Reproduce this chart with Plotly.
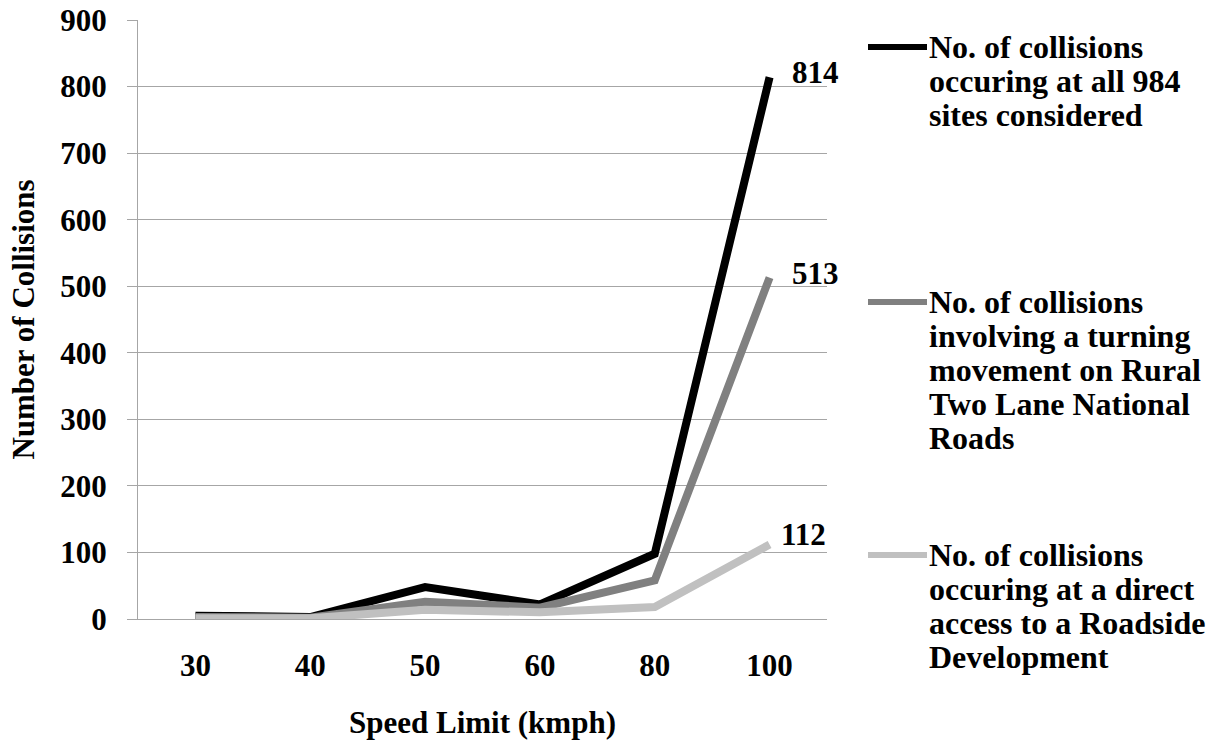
import plotly.graph_objects as go

# ---- data ----
speed_limits = ["30", "40", "50", "60", "80", "100"]
all_sites = [5, 3, 48, 22, 98, 814]
turning_movement = [3, 2, 26, 17, 58, 513]
direct_access = [1, 1, 14, 10, 18, 112]

series_values = [all_sites, turning_movement, direct_access]
series_names = [
    "No. of collisions occuring at all 984 sites considered",
    "No. of collisions involving a turning movement on Rural Two Lane National Roads",
    "No. of collisions occuring at a direct access to a Roadside Development",
]
legend_lines = [
    ["No. of collisions", "occuring at all 984", "sites considered"],
    ["No. of collisions", "involving a turning", "movement on Rural", "Two Lane National", "Roads"],
    ["No. of collisions", "occuring at a direct", "access to a Roadside", "Development"],
]
y_ticks = [0, 100, 200, 300, 400, 500, 600, 700, 800, 900]

# ---- style ----
colors = ["#000000", "#808080", "#c0c0c0"]
FONT = "Liberation Serif"
FS = 31
LFS = 32
W, H = 1209, 740
L, R, T, B = 138, 382, 20, 121
label_shift = [(20, 5), (20, 4), (9, 10)]
legend_first_y = [47, 302, 555]
legend_step = 34

pw, ph = W - L - R, H - T - B

def px_to_paper(x, y):
    return (x - L) / pw, (H - B - y) / ph

bold = dict(family=FONT, size=FS, color="black", weight="bold")

fig = go.Figure()
for vals, name, col in zip(series_values, series_names, colors):
    fig.add_trace(go.Scatter(
        x=speed_limits, y=vals, mode="lines", name=name,
        line=dict(color=col, width=8), showlegend=False,
    ))

annotations = []
shapes = []
last_idx = len(speed_limits) - 1
for i, (vals, col) in enumerate(zip(series_values, colors)):
    dx, dy = label_shift[i]
    annotations.append(dict(
        xref="x", yref="y", x=last_idx, y=vals[-1], text=str(vals[-1]),
        showarrow=False, xanchor="left", yanchor="middle",
        xshift=dx, yshift=dy, font=bold,
    ))
    # legend entry
    y0 = legend_first_y[i]
    sx0, sy = px_to_paper(868, y0)
    sx1, _ = px_to_paper(927, y0)
    shapes.append(dict(type="line", xref="paper", yref="paper",
                       x0=sx0, x1=sx1, y0=sy, y1=sy,
                       line=dict(color=col, width=6)))
    for j, txt in enumerate(legend_lines[i]):
        tx, ty = px_to_paper(927, y0 + j * legend_step)
        annotations.append(dict(
            xref="paper", yref="paper", x=tx, y=ty, text=txt, showarrow=False,
            xanchor="left", yanchor="middle",
            font=dict(family=FONT, size=LFS, color="black", weight="bold"),
        ))

fig.update_layout(
    width=W, height=H,
    margin=dict(l=L, r=R, t=T, b=B, autoexpand=False),
    paper_bgcolor="white", plot_bgcolor="white",
    font=bold,
    annotations=annotations, shapes=shapes,
    showlegend=False,
)
fig.update_xaxes(
    type="category", range=[-0.5, len(speed_limits) - 0.5],
    showline=True, linecolor="#a6a6a6", linewidth=1,
    ticks="", showgrid=False, ticklabelstandoff=19,
    tickfont=bold,
    title=dict(text="Speed Limit (kmph)", standoff=30, font=bold),
)
fig.update_yaxes(
    range=[0, 900], tickvals=y_ticks,
    showline=True, linecolor="#a6a6a6", linewidth=1,
    ticks="outside", ticklen=10, tickcolor="#a6a6a6",
    showgrid=True, gridcolor="#a6a6a6", gridwidth=1, zeroline=False,
    ticklabelstandoff=14,
    tickfont=bold,
    title=dict(text="Number of Collisions", standoff=16, font=bold),
)

fig.write_html("out.html")
